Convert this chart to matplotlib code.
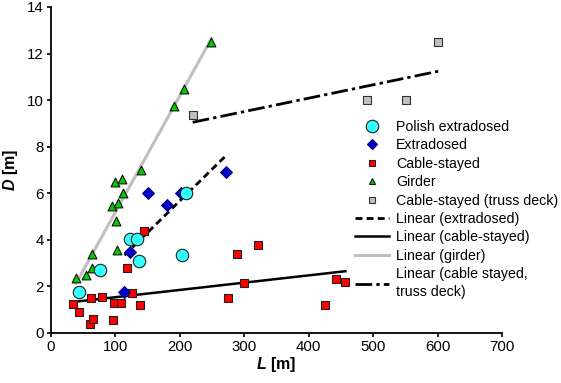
import numpy as np
import matplotlib
matplotlib.use("Agg")
import matplotlib.pyplot as plt
from matplotlib.lines import Line2D
from matplotlib.legend_handler import HandlerLine2D

plt.rcParams['font.family'] = ['Liberation Sans', 'DejaVu Sans']
plt.rcParams['mathtext.fontset'] = 'custom'
plt.rcParams['mathtext.bfit'] = 'Liberation Sans:bold:italic'
plt.rcParams['mathtext.rm'] = 'Liberation Sans'

# Data (span L [m], depth D [m])
polish_L = [44, 76, 122, 134, 136, 204, 209]
polish_D = [1.75, 2.7, 4.05, 4.05, 3.1, 3.35, 6.0]

extra_L = [114, 122, 150, 180, 201, 271]
extra_D = [1.75, 3.5, 6.0, 5.5, 6.0, 6.9]

cable_L = [34, 44, 62, 79, 61, 65, 98, 108, 96, 125, 138, 118, 144, 274, 289, 321, 299, 426, 442, 457]
cable_D = [1.25, 0.9, 1.5, 1.55, 0.4, 0.6, 1.3, 1.3, 0.55, 1.7, 1.2, 2.8, 4.4, 1.5, 3.4, 3.8, 2.15, 1.2, 2.3, 2.2]

girder_L = [39, 55, 64, 64, 102, 101, 94, 104, 111, 99, 110, 139, 191, 207, 249]
girder_D = [2.35, 2.5, 2.8, 3.4, 3.55, 4.8, 5.45, 5.6, 6.0, 6.5, 6.6, 7.0, 9.75, 10.5, 12.5]

truss_L = [220, 491, 551, 601]
truss_D = [9.35, 10.0, 10.0, 12.5]

fig = plt.figure(figsize=(5.61, 3.83), dpi=100)
ax = fig.add_axes([51/561, 1-333/383, 451/561, 326/383])


def trend(xs, ys, **kw):
    xs = np.asarray(xs, float); ys = np.asarray(ys, float)
    k, b = np.polyfit(xs, ys, 1)
    xx = np.array([xs.min(), xs.max()])
    ax.plot(xx, k*xx + b, zorder=2, **kw)

dash = (0, (2.5, 1.5))
dashdot = (0, (6, 1.5, 1.2, 1.5))
trend(extra_L, extra_D, color='black', lw=2.0, ls=dash)
trend(cable_L, cable_D, color='black', lw=1.8, ls='-')
trend(girder_L, girder_D, color='#BFBFBF', lw=2.2, ls='-')
trend(truss_L, truss_D, color='black', lw=2.0, ls=dashdot)

ax.scatter(cable_L, cable_D, marker='s', s=34, c='#FF0000', edgecolors='#222222', linewidths=0.8, zorder=3)
ax.scatter(girder_L, girder_D, marker='^', s=40, c='#00CC00', edgecolors='#111111', linewidths=0.8, zorder=3)
ax.scatter(extra_L, extra_D, marker='D', s=36, c='#0000CC', edgecolors='#000080', linewidths=0.8, zorder=3)
ax.scatter(polish_L, polish_D, marker='o', s=80, c='#33FFFF', edgecolors='#222222', linewidths=0.8, zorder=3)
ax.scatter(truss_L, truss_D, marker='s', s=28, c='#C0C0C0', edgecolors='#333333', linewidths=0.8, zorder=3)

ax.set_xlim(0, 700)
ax.set_ylim(0, 14)
ax.set_xticks(np.arange(0, 701, 100))
ax.set_yticks(np.arange(0, 15, 2))
for s in ['top', 'right']:
    ax.spines[s].set_visible(False)
for s in ['left', 'bottom']:
    ax.spines[s].set_linewidth(1.3)
ax.tick_params(direction='out', length=3, width=1.2, labelsize=10.8, pad=2)

ax.set_xlabel(r'$\mathbfit{L}$ [m]', fontsize=11.5, fontweight='bold', labelpad=1)
ax.set_ylabel(r'$\mathbfit{D}$ [m]', fontsize=11.5, fontweight='bold', labelpad=5)


class OffsetMarkerHandler(HandlerLine2D):
    def get_xdata(self, legend, xdescent, ydescent, width, height, fontsize):
        xdata, _ = super().get_xdata(legend, xdescent, ydescent, width, height, fontsize)
        return xdata, np.array([-xdescent + 0.76 * width])


handles = [
    Line2D([], [], ls='none', marker='o', ms=9, mfc='#33FFFF', mec='#222222', mew=0.8),
    Line2D([], [], ls='none', marker='D', ms=5.5, mfc='#0000CC', mec='#000080', mew=0.8),
    Line2D([], [], ls='none', marker='s', ms=5, mfc='#FF0000', mec='#222222', mew=0.8),
    Line2D([], [], ls='none', marker='^', ms=5, mfc='#00CC00', mec='#111111', mew=0.8),
    Line2D([], [], ls='none', marker='s', ms=5, mfc='#C0C0C0', mec='#333333', mew=0.8),
    Line2D([], [], color='black', lw=2.0, ls=dash),
    Line2D([], [], color='black', lw=1.8),
    Line2D([], [], color='#BFBFBF', lw=2.2),
    Line2D([], [], color='black', lw=2.0, ls=dashdot),
]
labels = ['Polish extradosed', 'Extradosed', 'Cable-stayed', 'Girder',
          'Cable-stayed (truss deck)', 'Linear (extradosed)', 'Linear (cable-stayed)',
          'Linear (girder)', 'Linear (cable stayed,\ntruss deck)']
hmap = {h: OffsetMarkerHandler(numpoints=1) for h in handles[:5]}
leg = ax.legend(handles, labels, loc='upper left', bbox_to_anchor=((355-51)/451, (333-120)/326),
                frameon=False, fontsize=10.2, handlelength=2.4, handletextpad=0.5,
                labelspacing=0.31, borderpad=0, borderaxespad=0, handler_map=hmap)
for t in leg.get_texts():
    t.set_linespacing(1.35)

fig.savefig('out.png', dpi=100)
